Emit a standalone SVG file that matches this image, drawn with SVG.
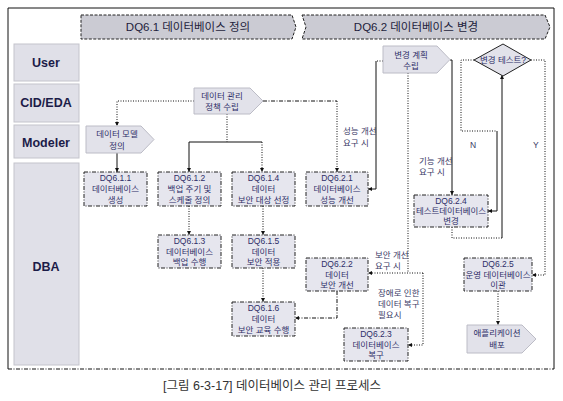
<svg xmlns="http://www.w3.org/2000/svg" width="563" height="401" viewBox="0 0 563 401">
<style>
text{font-family:"Liberation Sans","Noto Sans CJK KR",sans-serif;}
.hdr{fill:#cbcbd3;stroke:#222;stroke-width:1;stroke-dasharray:3,1.5;}
.hdrt{font-size:11.5px;fill:#1e1e3c;text-anchor:middle;dominant-baseline:central;}
.lane{fill:#e0e0e8;stroke:#c4c4cc;stroke-width:1;}
.lanet{font-family:"Liberation Sans",Arial,sans-serif;font-weight:bold;font-size:12.5px;fill:#1c1c48;text-anchor:middle;dominant-baseline:central;}
.box{fill:#e6e6ee;stroke:#222;stroke-width:1;stroke-dasharray:4,1.5,1,1.5;}
.pent{fill:#e2e2ea;stroke:#bcbcc6;stroke-width:1;}
.nt{font-size:8.5px;fill:#2e2e68;text-anchor:middle;dominant-baseline:central;}
.lt{font-size:8.5px;fill:#3a3a66;dominant-baseline:central;}
.dot{fill:none;stroke:#111;stroke-width:1;stroke-dasharray:1,1.5;}
.dd{fill:none;stroke:#111;stroke-width:1;stroke-dasharray:4,1.5,1,1.5;}
.sol{fill:none;stroke:#111;stroke-width:1;}
.cap{font-size:12.5px;fill:#333;text-anchor:middle;dominant-baseline:central;}
</style>
<defs>
<marker id="ah" viewBox="0 0 6 6" refX="6" refY="3" markerWidth="4" markerHeight="4" markerUnits="userSpaceOnUse" orient="auto">
<path d="M0,0 L6,3 L0,6 z" fill="#111"/>
</marker>
</defs>
<rect width="563" height="401" fill="#fff"/>
<g id="frame">
<path d="M8,369 V8 H554 V369" fill="none" stroke="#111" stroke-width="1"/>
<path d="M8,369 H554" class="dd"/>
</g>
<g id="header1">
<polygon class="hdr" points="81,15 292,15 296,27 292,39 81,39"/>
<text class="hdrt" x="188" y="27">DQ6.1 데이터베이스 정의</text>
</g>
<g id="header2">
<polygon class="hdr" points="302,15 545,15 550,27 545,39 302,39 306,27"/>
<text class="hdrt" x="416" y="27">DQ6.2 데이터베이스 변경</text>
</g>
<g id="lane-user"><rect class="lane" x="14" y="44" width="65" height="37"/><text class="lanet" x="46" y="63">User</text></g>
<g id="lane-cid"><rect class="lane" x="14" y="84" width="65" height="38"/><text class="lanet" x="46" y="103">CID/EDA</text></g>
<g id="lane-modeler"><rect class="lane" x="14" y="125" width="65" height="33"/><text class="lanet" x="46" y="143">Modeler</text></g>
<g id="lane-dba"><rect class="lane" x="14" y="163" width="65" height="202"/><text class="lanet" x="46" y="267">DBA</text></g>

<g id="connectors">
<path class="dot" d="M194,101 H117 V126" marker-end="url(#ah)"/>
<path class="sol" d="M117,153 V172" marker-end="url(#ah)"/>
<path class="dot" d="M227,114 V142"/>
<path class="sol" d="M262,142 H189 V172" marker-end="url(#ah)"/>
<path class="dot" d="M262,142 V172" marker-end="url(#ah)"/>
<path class="dd" d="M263,101 H337"/>
<path class="dot" d="M337,101 V172" marker-end="url(#ah)"/>
<path class="dot" d="M383,61 H376"/>
<path class="sol" d="M376,61 V189 H368" marker-end="url(#ah)"/>
<path class="dot" d="M408,73 V273"/>
<path class="dot" d="M423,273 H368" marker-end="url(#ah)"/>
<path class="dot" d="M423,273 V345 H408" marker-end="url(#ah)"/>
<path class="sol" d="M450,60 H452 V195" marker-end="url(#ah)"/>
<path class="dot" d="M474,60 H461 V131 H497"/>
<path class="sol" d="M497,131 V211 H488" marker-end="url(#ah)"/>
<path class="dot" d="M452,227 V238 H502"/>
<path class="sol" d="M502,238 V75" marker-end="url(#ah)"/>
<path class="dot" d="M531,60 H545 V275 H532" marker-end="url(#ah)"/>
<path class="dot" d="M498,291 V325" marker-end="url(#ah)"/>
<path class="dot" d="M189,206 V235" marker-end="url(#ah)"/>
<path class="dot" d="M263,206 V235" marker-end="url(#ah)"/>
<path class="dot" d="M263,268 V302" marker-end="url(#ah)"/>
<path class="dd" d="M337,291 V318 H295" marker-end="url(#ah)"/>
</g>

<g id="labels">
<text class="lt" x="343" y="131">성능 개선</text>
<text class="lt" x="343" y="143">요구 시</text>
<text class="lt" x="419" y="161">기능 개선</text>
<text class="lt" x="419" y="172">요구 시</text>
<text class="lt" x="470" y="145">N</text>
<text class="lt" x="533" y="145">Y</text>
<text class="lt" x="375" y="255">보안 개선</text>
<text class="lt" x="375" y="266">요구 시</text>
<text class="lt" x="378" y="293">장애로 인한</text>
<text class="lt" x="378" y="304">데이터 복구</text>
<text class="lt" x="378" y="315">필요시</text>
</g>

<g id="n-policy">
<polygon class="pent" points="194,88 250,88 263,101 250,114 194,114"/>
<text class="nt" x="222" y="96">데이터 관리</text>
<text class="nt" x="222" y="107">정책 수립</text>
</g>
<g id="n-model">
<polygon class="pent" points="86,126 141,126 154,139.5 141,153 86,153"/>
<text class="nt" x="117" y="134">데이터 모델</text>
<text class="nt" x="117" y="146">정의</text>
</g>
<g id="n-611">
<rect class="box" x="84" y="172" width="63" height="34"/>
<text class="nt" x="115.5" y="178">DQ6.1.1</text>
<text class="nt" x="115.5" y="189">데이터베이스</text>
<text class="nt" x="115.5" y="200">생성</text>
</g>
<g id="n-612">
<rect class="box" x="158" y="172" width="63" height="34"/>
<text class="nt" x="189.5" y="178">DQ6.1.2</text>
<text class="nt" x="189.5" y="189">백업 주기 및</text>
<text class="nt" x="189.5" y="200">스케줄 정의</text>
</g>
<g id="n-614">
<rect class="box" x="232" y="172" width="63" height="34"/>
<text class="nt" x="263.5" y="178">DQ6.1.4</text>
<text class="nt" x="263.5" y="189">데이터</text>
<text class="nt" x="263.5" y="200">보안 대상 선정</text>
</g>
<g id="n-613">
<rect class="box" x="158" y="235" width="63" height="33"/>
<text class="nt" x="189.5" y="241">DQ6.1.3</text>
<text class="nt" x="189.5" y="251.5">데이터베이스</text>
<text class="nt" x="189.5" y="262">백업 수행</text>
</g>
<g id="n-615">
<rect class="box" x="232" y="235" width="63" height="33"/>
<text class="nt" x="263.5" y="241">DQ6.1.5</text>
<text class="nt" x="263.5" y="251.5">데이터</text>
<text class="nt" x="263.5" y="262">보안 적용</text>
</g>
<g id="n-616">
<rect class="box" x="232" y="302" width="63" height="34"/>
<text class="nt" x="263.5" y="308">DQ6.1.6</text>
<text class="nt" x="263.5" y="319">데이터</text>
<text class="nt" x="263.5" y="330">보안 교육 수행</text>
</g>
<g id="n-621">
<rect class="box" x="306" y="172" width="62" height="34"/>
<text class="nt" x="337" y="178">DQ6.2.1</text>
<text class="nt" x="337" y="189">데이터베이스</text>
<text class="nt" x="337" y="200">성능 개선</text>
</g>
<g id="n-622">
<rect class="box" x="306" y="258" width="62" height="33"/>
<text class="nt" x="337" y="264">DQ6.2.2</text>
<text class="nt" x="337" y="274.5">데이터</text>
<text class="nt" x="337" y="285">보안 개선</text>
</g>
<g id="n-623">
<rect class="box" x="344" y="328" width="64" height="33"/>
<text class="nt" x="376" y="334">DQ6.2.3</text>
<text class="nt" x="376" y="344.5">데이터베이스</text>
<text class="nt" x="376" y="355">복구</text>
</g>
<g id="n-plan">
<polygon class="pent" points="383,46 437,46 450,59.5 437,73 383,73"/>
<text class="nt" x="411" y="55">변경 계획</text>
<text class="nt" x="411" y="66">수립</text>
</g>
<g id="n-test">
<polygon class="pent" points="503,44 531,60 503,76 474,60" style="stroke:#222"/>
<text class="nt" x="503" y="60">변경 테스트?</text>
</g>
<g id="n-624">
<rect class="box" x="414" y="195" width="74" height="32"/>
<text class="nt" x="451" y="201">DQ6.2.4</text>
<text class="nt" x="451" y="211" textLength="70" lengthAdjust="spacingAndGlyphs">테스트데이터베이스</text>
<text class="nt" x="451" y="221">변경</text>
</g>
<g id="n-625">
<rect class="box" x="464" y="258" width="68" height="33"/>
<text class="nt" x="498" y="264">DQ6.2.5</text>
<text class="nt" x="498" y="274.5">운영 데이터베이스</text>
<text class="nt" x="498" y="285">이관</text>
</g>
<g id="n-deploy">
<polygon class="pent" points="467,325 522,325 536,339 522,353 467,353"/>
<text class="nt" x="497" y="333">애플리케이션</text>
<text class="nt" x="497" y="345">배포</text>
</g>

<text class="cap" x="272" y="386">[그림 6-3-17] 데이터베이스 관리 프로세스</text>
</svg>
